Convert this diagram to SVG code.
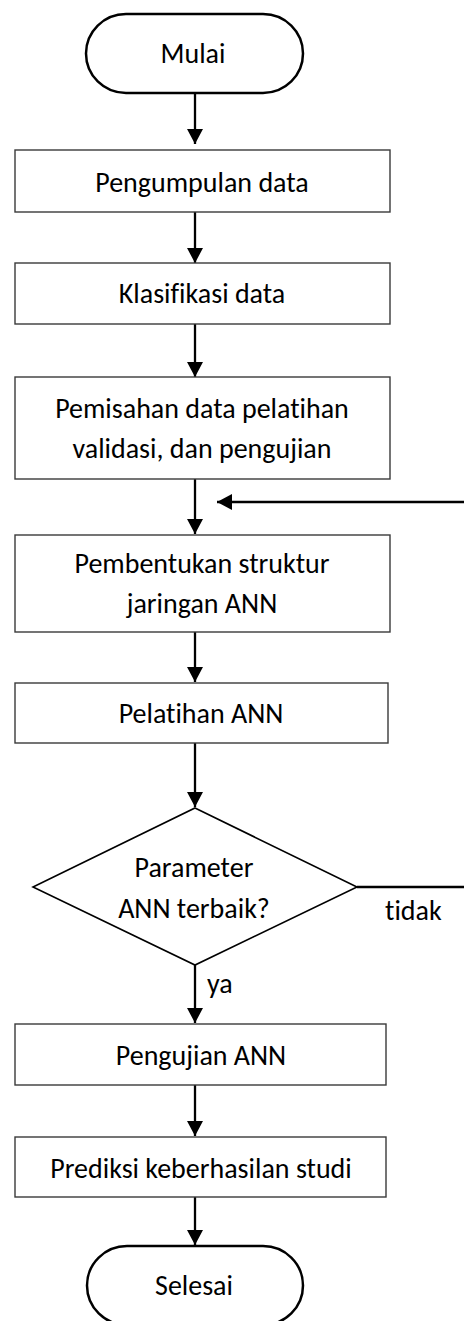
<svg xmlns="http://www.w3.org/2000/svg" width="464" height="1321" viewBox="0 0 464 1321">
<defs>
<style>
.box{fill:#fff;stroke:#3a3a3a;stroke-width:1.4}
.term{fill:#fff;stroke:#000;stroke-width:2.5}
.dia{fill:#fff;stroke:#000;stroke-width:1.6}
.t{font-family:Carlito,Calibri,Lato,"Liberation Sans",sans-serif;font-size:28px;fill:#000;text-anchor:middle;font-variant-ligatures:none}
.ts{font-family:Carlito,Calibri,Lato,"Liberation Sans",sans-serif;font-size:28px;fill:#000;font-variant-ligatures:none}
.c{fill:none;stroke:#000;stroke-width:2.3}
</style>
<marker id="ah" markerWidth="16" markerHeight="16" refX="15" refY="8" orient="auto" markerUnits="userSpaceOnUse">
<path d="M0,0 L15,8 L0,16 Z" fill="#000"/>
</marker>
</defs>
<rect width="464" height="1321" fill="#fff"/>
<g id="connectors">
<line class="c" x1="195" y1="93" x2="195" y2="144" marker-end="url(#ah)"/>
<line class="c" x1="195" y1="212" x2="195" y2="263" marker-end="url(#ah)"/>
<line class="c" x1="195" y1="324" x2="195" y2="377" marker-end="url(#ah)"/>
<line class="c" x1="195" y1="479" x2="195" y2="534" marker-end="url(#ah)"/>
<line class="c" x1="195" y1="632" x2="195" y2="682" marker-end="url(#ah)"/>
<line class="c" x1="195" y1="743" x2="195" y2="807" marker-end="url(#ah)"/>
<line class="c" x1="195" y1="965" x2="195" y2="1023" marker-end="url(#ah)"/>
<line class="c" x1="195" y1="1085" x2="195" y2="1136" marker-end="url(#ah)"/>
<line class="c" x1="195" y1="1197" x2="195" y2="1245" marker-end="url(#ah)"/>
<path class="c" d="M357,887 H470 V502 H217" marker-end="url(#ah)"/>
<text class="ts" x="385" y="920">tidak</text>
<text class="ts" x="207" y="993">ya</text>
</g>
<g id="mulai">
<rect class="term" x="86" y="14" width="217" height="79" rx="40" ry="39.5"/>
<text class="t" x="193" y="63">Mulai</text>
</g>
<g id="pengumpulan">
<rect class="box" x="15" y="150" width="375" height="62"/>
<text class="t" x="202" y="192">Pengumpulan data</text>
</g>
<g id="klasifikasi">
<rect class="box" x="15" y="263" width="375" height="61"/>
<text class="t" x="202" y="303">Klasifikasi data</text>
</g>
<g id="pemisahan">
<rect class="box" x="15" y="377" width="375" height="102"/>
<text class="t" x="202" y="418">Pemisahan data pelatihan</text>
<text class="t" x="202" y="458">validasi, dan pengujian</text>
</g>
<g id="pembentukan">
<rect class="box" x="15" y="535" width="375" height="97"/>
<text class="t" x="202" y="573">Pembentukan struktur</text>
<text class="t" x="202" y="613">jaringan ANN</text>
</g>
<g id="pelatihan">
<rect class="box" x="15" y="683" width="373" height="60"/>
<text class="t" x="201" y="723">Pelatihan ANN</text>
</g>
<g id="keputusan">
<polygon class="dia" points="195,808 357,887 195,965 33,887"/>
<text class="t" x="194" y="877">Parameter</text>
<text class="t" x="194" y="918">ANN terbaik?</text>
</g>
<g id="pengujian">
<rect class="box" x="15" y="1024" width="371" height="61"/>
<text class="t" x="201" y="1065">Pengujian ANN</text>
</g>
<g id="prediksi">
<rect class="box" x="15" y="1137" width="371" height="60"/>
<text class="t" x="201" y="1178">Prediksi keberhasilan studi</text>
</g>
<g id="selesai">
<rect class="term" x="87" y="1246" width="216" height="79" rx="40" ry="39.5"/>
<text class="t" x="194" y="1295">Selesai</text>
</g>
</svg>
